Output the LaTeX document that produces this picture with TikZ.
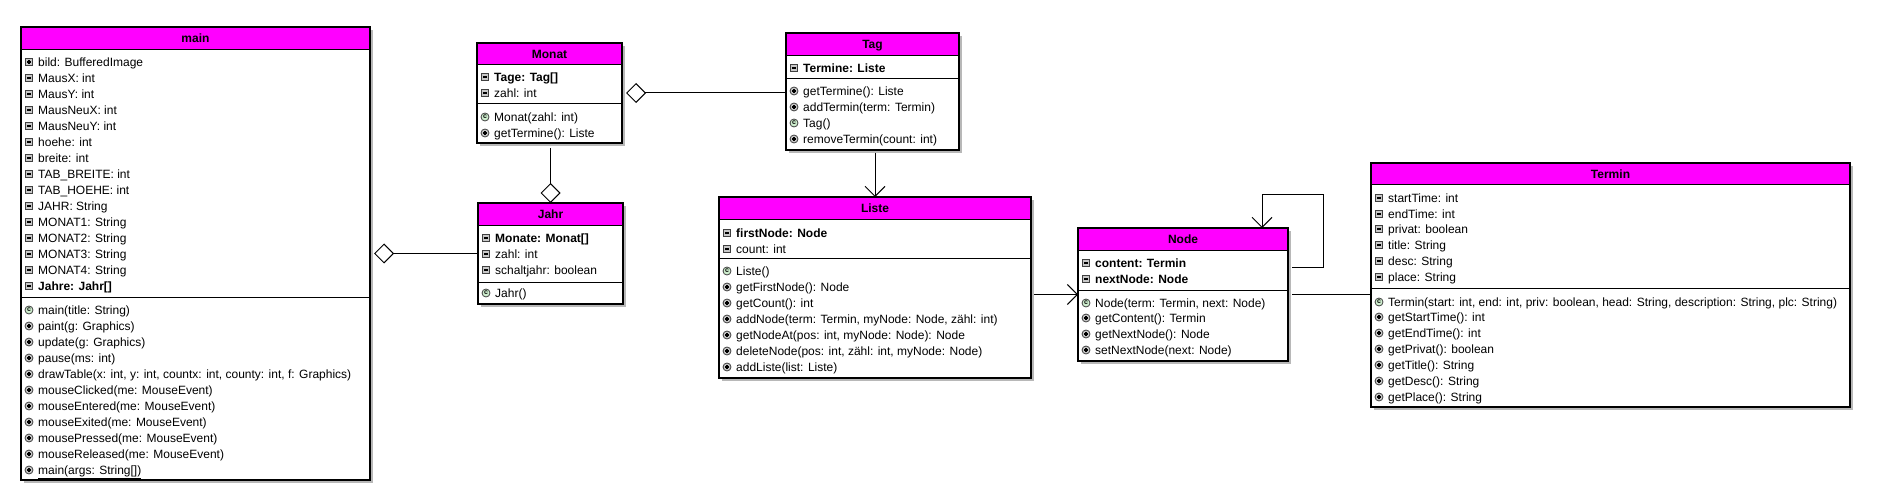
\documentclass[tikz,border=0pt]{standalone}
\usepackage{fontspec}
\setmainfont{Liberation Sans}
\usetikzlibrary{arrows.meta,calc}
\definecolor{hdr}{HTML}{FF00FF}
\definecolor{shadowc}{HTML}{B8B8B8}
\definecolor{icfill}{HTML}{C8C8C8}
\definecolor{icdark}{HTML}{404040}
\definecolor{ctorfill}{HTML}{CFEFCF}
\newcounter{rowc}
\tikzset{
  classbox/.style={draw=black, line width=1.1pt, inner sep=0pt, outer sep=0pt},
  sepline/.style={draw=black, line width=1pt},
  titletxt/.style={font=\fontsize{12}{15}\selectfont\bfseries, inner sep=0pt},
  rowtxt/.style={font=\fontsize{12}{15}\selectfont, inner sep=0pt},
  conn/.style={draw=black, line width=1pt},
  aggr/.style={conn, {Diamond[open,length=20pt,width=20pt,line width=1pt]}-},
  navi/.style={conn, -{Straight Barb[length=10pt,width=20pt,line width=1pt]}},
  privicon/.pic={\draw[icdark, fill=icfill, line width=0.8pt] (-3.5,-3.5) rectangle (3.5,3.5);
                 \draw[black, line width=1.2pt] (-2,0) -- (2,0);},
  pkgicon/.pic={\draw[icdark, fill=icfill, line width=0.8pt] (-3.5,-3.5) rectangle (3.5,3.5);
                 \draw[black, line width=1.2pt] (-2,0) -- (2,0) (0,-2) -- (0,2);},
  pubicon/.pic={\draw[icdark, fill=icfill, line width=0.8pt] (0,0) circle (4);
                 \draw[black, line width=1.2pt] (-2,0) -- (2,0) (0,-2) -- (0,2);},
  ctoricon/.pic={\draw[icdark, fill=ctorfill, line width=0.8pt] (0,0) circle (4);
                 \node[font=\fontsize{7}{7}\selectfont\bfseries, inner sep=0pt] at (0,0) {c};},
}
% \umlclass{name}{title}{x1}{y1}{x2}{y2}{yhead}{ydiv}
\newcommand{\umlclass}[8]{%
  \fill[shadowc] ({#3+3},{-#4-3}) rectangle ({#5+3},{-#6-3});
  \fill[white] (#3,-#4) rectangle (#5,-#6);
  \fill[hdr] (#3,-#4) rectangle (#5,-#7);
  \node[classbox, anchor=north west, minimum width={(#5-#3)*1pt}, minimum height={(#6-#4)*1pt}] (#1) at (#3,-#4) {};
  \draw[sepline] (#3,-#7) -- (#5,-#7);
  \draw[sepline] (#3,-#8) -- (#5,-#8);
  \node[titletxt, anchor=base] (#1-title) at ({(#3+#5)/2},{-(#4+#7)/2-4.5}) {#2};
}
% \mrow{icon}{box left x}{row centre y}{text}
\newcommand{\mrow}[4]{%
  \stepcounter{rowc}%
  \pic at ({#2+8},{-#3}) {#1};
  \node[rowtxt, anchor=base west] (row\arabic{rowc}) at ({#2+17},{-#3-4.5}) {#4};
}
\begin{document}
\begin{tikzpicture}[x=1pt, y=1pt]
\fill[white] (0,0) rectangle (1889,-494);
\useasboundingbox (0,0) rectangle (1889,-494);

% ---------------- main ----------------
\umlclass{main}{main}{21}{27}{370}{480}{50}{297}
\mrow{pkgicon}{21}{62}{bild: BufferedImage}
\mrow{privicon}{21}{78}{MausX: int}
\mrow{privicon}{21}{94}{MausY: int}
\mrow{privicon}{21}{110}{MausNeuX: int}
\mrow{privicon}{21}{126}{MausNeuY: int}
\mrow{privicon}{21}{142}{hoehe: int}
\mrow{privicon}{21}{158}{breite: int}
\mrow{privicon}{21}{174}{TAB\_BREITE: int}
\mrow{privicon}{21}{190}{TAB\_HOEHE: int}
\mrow{privicon}{21}{206}{JAHR: String}
\mrow{privicon}{21}{222}{MONAT1: String}
\mrow{privicon}{21}{238}{MONAT2: String}
\mrow{privicon}{21}{254}{MONAT3: String}
\mrow{privicon}{21}{270}{MONAT4: String}
\mrow{privicon}{21}{286}{\bfseries Jahre: Jahr[]}
\mrow{ctoricon}{21}{310}{main(title: String)}
\mrow{pubicon}{21}{326}{paint(g: Graphics)}
\mrow{pubicon}{21}{342}{update(g: Graphics)}
\mrow{pubicon}{21}{358}{pause(ms: int)}
\mrow{pubicon}{21}{374}{drawTable(x: int, y: int, countx: int, county: int, f: Graphics)}
\mrow{pubicon}{21}{390}{mouseClicked(me: MouseEvent)}
\mrow{pubicon}{21}{406}{mouseEntered(me: MouseEvent)}
\mrow{pubicon}{21}{422}{mouseExited(me: MouseEvent)}
\mrow{pubicon}{21}{438}{mousePressed(me: MouseEvent)}
\mrow{pubicon}{21}{454}{mouseReleased(me: MouseEvent)}
\mrow{pubicon}{21}{470}{\underline{main(args: String[])}}

% ---------------- Monat ----------------
\umlclass{monat}{Monat}{477}{43}{622}{143}{65}{104}
\mrow{privicon}{477}{77}{\bfseries Tage: Tag[]}
\mrow{privicon}{477}{93}{zahl: int}
\mrow{ctoricon}{477}{117}{Monat(zahl: int)}
\mrow{pubicon}{477}{133}{getTermine(): Liste}

% ---------------- Jahr ----------------
\umlclass{jahr}{Jahr}{478}{203}{623}{304}{226}{282}
\mrow{privicon}{478}{238}{\bfseries Monate: Monat[]}
\mrow{privicon}{478}{254}{zahl: int}
\mrow{privicon}{478}{270}{schaltjahr: boolean}
\mrow{ctoricon}{478}{293}{Jahr()}

% ---------------- Tag ----------------
\umlclass{tag}{Tag}{786}{33}{959}{150}{56}{79}
\mrow{privicon}{786}{68}{\bfseries Termine: Liste}
\mrow{pubicon}{786}{91}{getTermine(): Liste}
\mrow{pubicon}{786}{107}{addTermin(term: Termin)}
\mrow{ctoricon}{786}{123}{Tag()}
\mrow{pubicon}{786}{139}{removeTermin(count: int)}

% ---------------- Liste ----------------
\umlclass{liste}{Liste}{719}{197}{1031}{378}{220}{259}
\mrow{privicon}{719}{233}{\bfseries firstNode: Node}
\mrow{privicon}{719}{249}{count: int}
\mrow{ctoricon}{719}{271}{Liste()}
\mrow{pubicon}{719}{287}{getFirstNode(): Node}
\mrow{pubicon}{719}{303}{getCount(): int}
\mrow{pubicon}{719}{319}{addNode(term: Termin, myNode: Node, zähl: int)}
\mrow{pubicon}{719}{335}{getNodeAt(pos: int, myNode: Node): Node}
\mrow{pubicon}{719}{351}{deleteNode(pos: int, zähl: int, myNode: Node)}
\mrow{pubicon}{719}{367}{addListe(list: Liste)}

% ---------------- Node ----------------
\umlclass{nodecls}{Node}{1078}{228}{1288}{361}{251}{290}
\mrow{privicon}{1078}{263}{\bfseries content: Termin}
\mrow{privicon}{1078}{279}{\bfseries nextNode: Node}
\mrow{ctoricon}{1078}{303}{Node(term: Termin, next: Node)}
\mrow{pubicon}{1078}{318}{getContent(): Termin}
\mrow{pubicon}{1078}{334}{getNextNode(): Node}
\mrow{pubicon}{1078}{350}{setNextNode(next: Node)}

% ---------------- Termin ----------------
\umlclass{termin}{Termin}{1371}{163}{1850}{407}{185}{288}
\mrow{privicon}{1371}{198}{startTime: int}
\mrow{privicon}{1371}{214}{endTime: int}
\mrow{privicon}{1371}{229}{privat: boolean}
\mrow{privicon}{1371}{245}{title: String}
\mrow{privicon}{1371}{261}{desc: String}
\mrow{privicon}{1371}{277}{place: String}
\mrow{ctoricon}{1371}{302}{Termin(start: int, end: int, priv: boolean, head: String, description: String, plc: String)}
\mrow{pubicon}{1371}{317}{getStartTime(): int}
\mrow{pubicon}{1371}{333}{getEndTime(): int}
\mrow{pubicon}{1371}{349}{getPrivat(): boolean}
\mrow{pubicon}{1371}{365}{getTitle(): String}
\mrow{pubicon}{1371}{381}{getDesc(): String}
\mrow{pubicon}{1371}{397}{getPlace(): String}

% ---------------- connectors ----------------
\draw[aggr, shorten <=4pt] (main.east |- jahr.west) -- (jahr.west);
\draw[aggr, shorten >=5pt] (jahr.north) -- (jahr.north |- monat.south);
\draw[aggr, shorten <=4pt] (monat.east) -- (tag.west |- monat.east);
\draw[navi, shorten <=3pt] (liste.north |- tag.south) -- (liste.north);
\draw[navi, shorten <=3pt] (liste.east |- nodecls.west) -- (nodecls.west);
\draw[conn, shorten <=4pt] (nodecls.east) -- (termin.west |- nodecls.east);
\draw[navi] ([xshift=4pt,yshift=-40pt]nodecls.north east) -- ++(31,0) -- ++(0,73) -- ++(-61,0) -- ([xshift=-26pt]nodecls.north east);
\end{tikzpicture}
\end{document}
